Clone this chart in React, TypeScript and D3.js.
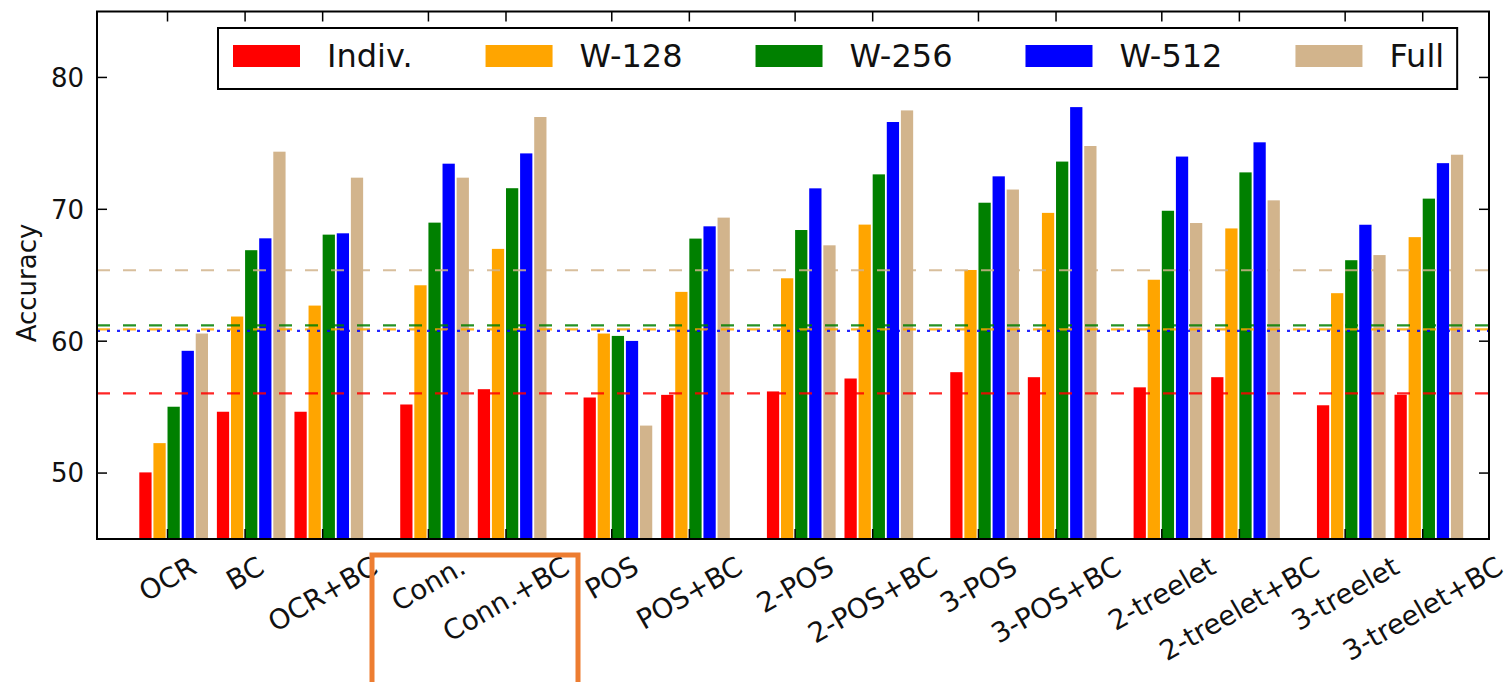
import React, { useMemo } from 'react';
import * as d3 from 'd3';

// categories, grouped the way the figure spaces them (extra gap between groups)
const groups = [
  ['OCR', 'BC', 'OCR+BC'],
  ['Conn.', 'Conn.+BC'],
  ['POS', 'POS+BC'],
  ['2-POS', '2-POS+BC'],
  ['3-POS', '3-POS+BC'],
  ['2-treelet', '2-treelet+BC'],
  ['3-treelet', '3-treelet+BC'],
];

const seriesNames = ['Indiv.', 'W-128', 'W-256', 'W-512', 'Full'];
const seriesColors = ['#ff0000', '#ffa500', '#008000', '#0000ff', '#d2b48c'];

const indiv = [50.05, 54.65, 54.65, 55.2, 56.36, 55.73, 55.93, 56.19, 57.17, 57.65, 57.27, 56.5, 57.27, 55.14, 55.94];
const w128 = [52.27, 61.87, 62.7, 64.24, 67.0, 60.58, 63.74, 64.77, 68.84, 65.4, 69.73, 64.66, 68.55, 63.64, 67.89];
const w256 = [55.03, 66.9, 68.08, 68.99, 71.6, 60.4, 67.78, 68.43, 72.65, 70.5, 73.62, 69.89, 72.8, 66.14, 70.81];
const w512 = [59.27, 67.8, 68.18, 73.46, 74.24, 60.02, 68.71, 71.59, 76.62, 72.5, 77.75, 74.0, 75.08, 68.83, 73.5];
const full = [60.58, 74.37, 72.4, 72.4, 77.0, 53.6, 69.37, 67.27, 77.5, 71.5, 74.8, 68.96, 70.68, 66.53, 74.14];

// horizontal reference level for each series
const baselines = [56.04, 60.9, 61.2, 60.78, 65.38];
const baselineDash = ['13,13', '13,13', '13,13', '3,7', '13,13'];

const yTicks = [50, 60, 70, 80];

const FONT = '"DejaVu Sans", "Bitstream Vera Sans", sans-serif';

let measureCtx: CanvasRenderingContext2D | null = null;
function textWidth(s: string, size: number) {
  if (!measureCtx && typeof document !== 'undefined') {
    measureCtx = document.createElement('canvas').getContext('2d');
  }
  if (!measureCtx) return s.length * size * 0.6;
  measureCtx.font = `${size}px "DejaVu Sans"`;
  return measureCtx.measureText(s).width;
}

export default function App() {
  const width = 1510;
  const height = 682;
  const left = 97, right = 1489, top = 11.5, bottom = 539;

  const series = [indiv, w128, w256, w512, full];

  // bar-unit positions of each category: 5 bars + half gap, plus 2 units between groups
  const positions = useMemo(() => {
    const out: { label: string; pos: number }[] = [];
    let p = 0;
    groups.forEach((g, gi) => {
      g.forEach((label, li) => {
        if (li > 0) p += 5.5;
        else if (gi > 0) p += 7.5;
        out.push({ label, pos: p });
      });
    });
    return out;
  }, []);

  const x = d3.scaleLinear().domain([-3, 95.7]).range([left, right]);
  const y = d3.scaleLinear().domain([45, 85]).range([bottom, top]);
  const barW = x(0.87) - x(0);

  const yTickFont = 26;
  const xTickFont = 27.5;
  const legendFont = 32;
  const tickLen = 10;

  // legend layout
  const legendItems = useMemo(() => {
    let cx = 233;
    return seriesNames.map((name, i) => {
      const item = { name, color: seriesColors[i], px: cx, tx: cx + 94 };
      cx = item.tx + textWidth(name, legendFont) + 73;
      return item;
    });
  }, []);
  const lastItem = legendItems[legendItems.length - 1];
  const legendRight = lastItem.tx + textWidth(lastItem.name, legendFont) + 13;

  return (
    <svg width={width} height={height} style={{ position: 'absolute', left: 0, top: 0, background: '#fff' }}
      fontFamily={FONT}>
      <rect x={0} y={0} width={width} height={height} fill="#fff" />

      {/* bars */}
      <g>
        {positions.map((c, ci) =>
          series.map((vals, si) => (
            <rect key={`${ci}-${si}`} x={x(c.pos + si)} y={y(vals[ci])} width={barW}
              height={bottom - y(vals[ci])} fill={seriesColors[si]} />
          ))
        )}
      </g>

      {/* reference lines */}
      <g>
        {baselines.map((b, i) => (
          <line key={i} x1={left} x2={right} y1={y(b)} y2={y(b)} stroke={seriesColors[i]}
            strokeWidth={2.2} strokeDasharray={baselineDash[i]} opacity={0.85} />
        ))}
      </g>

      {/* axes frame */}
      <rect x={left} y={top} width={right - left} height={bottom - top} fill="none" stroke="#000" strokeWidth={2} />

      {/* y ticks */}
      <g>
        {yTicks.map(t => (
          <g key={t}>
            <line x1={left} x2={left + tickLen} y1={y(t)} y2={y(t)} stroke="#000" strokeWidth={1.5} />
            <line x1={right - tickLen} x2={right} y1={y(t)} y2={y(t)} stroke="#000" strokeWidth={1.5} />
            <text x={84} y={y(t)} dy="0.36em" textAnchor="end" fontSize={yTickFont} fill="#111">{t}</text>
          </g>
        ))}
      </g>

      {/* x ticks and rotated labels */}
      <g>
        {positions.map(c => {
          const tx = x(c.pos + 2);
          const w = textWidth(c.label, xTickFont);
          const h = xTickFont * 1.164;
          const H = w * 0.5 + h * 0.866;
          const cy = 550 + H / 2;
          return (
            <g key={c.label}>
              <line x1={tx} x2={tx} y1={bottom} y2={bottom - tickLen} stroke="#000" strokeWidth={1.5} />
              <line x1={tx} x2={tx} y1={top} y2={top + tickLen} stroke="#000" strokeWidth={1.5} />
              <text transform={`translate(${tx},${cy}) rotate(-30)`} x={0} y={0.346 * xTickFont}
                textAnchor="middle" fontSize={xTickFont} fill="#111">{c.label}</text>
            </g>
          );
        })}
      </g>

      {/* y label */}
      <text transform={`translate(36,283) rotate(-90)`} textAnchor="middle"
        fontSize={26} fill="#111">Accuracy</text>

      {/* legend */}
      <g>
        <rect x={218} y={28} width={legendRight - 218} height={61} fill="#fff" stroke="#000" strokeWidth={2} />
        {legendItems.map(it => (
          <g key={it.name}>
            <rect x={it.px} y={45} width={67} height={22} fill={it.color} />
            <text x={it.tx} y={67} fontSize={legendFont} fill="#111">{it.name}</text>
          </g>
        ))}
      </g>

      {/* highlight box drawn over the figure */}
      <rect x={372} y={555} width={206} height={135} fill="none" stroke="#ed7d31" strokeWidth={5} />
    </svg>
  );
}
